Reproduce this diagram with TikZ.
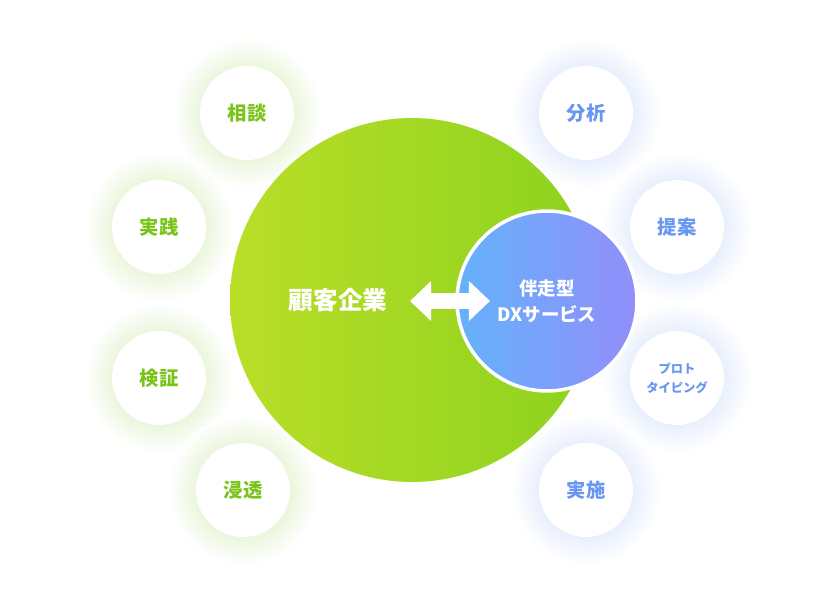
\documentclass[tikz,border=0pt]{standalone}
\usepackage{fontspec}
\setmainfont{Noto Sans CJK JP}
\usetikzlibrary{arrows.meta}
\definecolor{leafgreen}{RGB}{122,196,26}
\definecolor{skyblue}{RGB}{104,150,240}
\begin{document}
\begin{tikzpicture}[x=0.02cm,y=-0.02cm,
    every node/.style={font=\bfseries},
    halo/.style={circle,minimum size=3.0cm,inner sep=0pt,draw=none},
    greenhalo/.style={halo,inner color=leafgreen!40,outer color=white},
    bluehalo/.style={halo,inner color=skyblue!40,outer color=white},
    bubble/.style={circle,fill=white,minimum size=1.88cm,inner sep=0pt,align=center,font=\bfseries\fontsize{11}{13}\selectfont}]
  \useasboundingbox (0,0) rectangle (840,600);
  \fill[white] (0,0) rectangle (840,600);
  % glow around the small circles
  \foreach \x/\y in {247/113,159/227,159/378,243/490}
    \node[greenhalo] at (\x,\y) {};
  \foreach \x/\y in {586/113,677/227,677/378,586/490}
    \node[bluehalo] at (\x,\y) {};
  % main circles
  \node[circle,minimum size=7.28cm,left color={rgb,255:red,186;green,222;blue,40},right color={rgb,255:red,140;green,210;blue,30}] (client) at (412,300) {};
  \node[circle,minimum size=3.6cm,draw=white,line width=2pt,left color={rgb,255:red,100;green,178;blue,250},right color={rgb,255:red,146;green,142;blue,250},text=white,align=center,font=\bfseries\fontsize{10.5}{15}\selectfont] (dx) at (547,301) {伴走型\\DXサービス};
  \node[text=white,font=\bfseries\fontsize{14}{16}\selectfont] (cname) at (338,300) {顧客企業};
  \coordinate (al) at (410,301);
  \coordinate (ar) at (490,301);
  \draw[white,line width=9pt,{Triangle[length=12pt,width=22pt]}-{Triangle[length=12pt,width=22pt]}] (al) -- (ar);
  % left bubbles
  \node[bubble,text=leafgreen] (soudan) at (247,113) {相談};
  \node[bubble,text=leafgreen] (jissen) at (159,227) {実践};
  \node[bubble,text=leafgreen] (kensho) at (159,378) {検証};
  \node[bubble,text=leafgreen] (shinto) at (243,490) {浸透};
  % right bubbles
  \node[bubble,text=skyblue] (bunseki) at (586,113) {分析};
  \node[bubble,text=skyblue] (teian) at (677,227) {提案};
  \node[bubble,text=skyblue,font=\bfseries\fontsize{7}{11}\selectfont] (proto) at (677,378) {プロト\\タイピング};
  \node[bubble,text=skyblue] (jisshi) at (586,490) {実施};
\end{tikzpicture}
\end{document}
